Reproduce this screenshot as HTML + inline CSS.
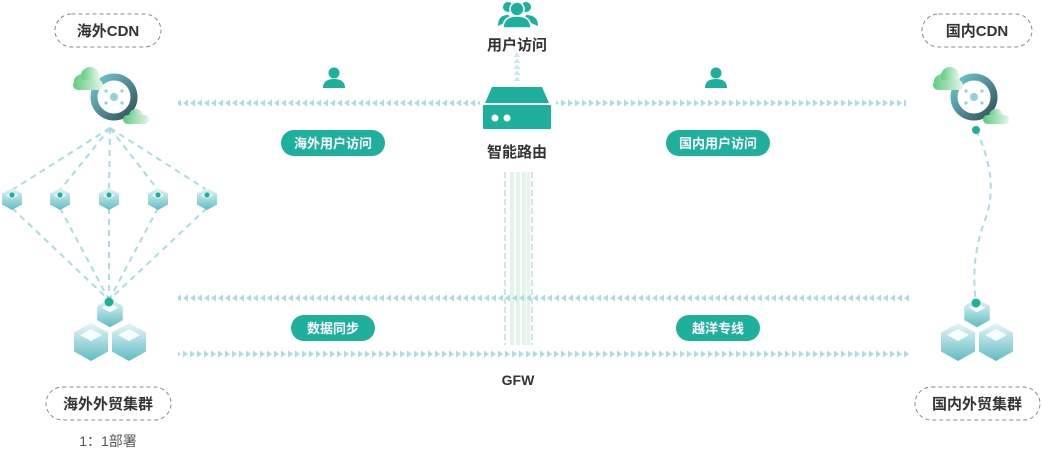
<!DOCTYPE html>
<html><head><meta charset="utf-8"><style>
body{margin:0;background:#fff;}
svg text{font-family:"Liberation Sans","Noto Sans CJK SC",sans-serif;}
</style></head><body>
<svg width="1042" height="449" viewBox="0 0 1042 449" xmlns="http://www.w3.org/2000/svg">
<defs>
<pattern id="al1" x="0" y="99" width="7" height="8" patternUnits="userSpaceOnUse"><path d="M1 4 L6 0.5 L6 7.5Z" fill="#a9dde3"/></pattern>
<pattern id="ar1" x="0" y="99" width="7" height="8" patternUnits="userSpaceOnUse"><path d="M6 4 L1 0.5 L1 7.5Z" fill="#a9dde3"/></pattern>
<pattern id="al2" x="0" y="294" width="7" height="8" patternUnits="userSpaceOnUse"><path d="M1 4 L6 0.5 L6 7.5Z" fill="#a9dde3"/></pattern>
<pattern id="ar2" x="0" y="350" width="7" height="8" patternUnits="userSpaceOnUse"><path d="M6 4 L1 0.5 L1 7.5Z" fill="#a9dde3"/></pattern>
<pattern id="au" x="513" y="52" width="8" height="6" patternUnits="userSpaceOnUse"><path d="M4 0.5 L0.5 5 L7.5 5Z" fill="#c5e9ec"/></pattern>
<linearGradient id="cube" x1="0" y1="0" x2="0" y2="1"><stop offset="0" stop-color="#e8f6f7"/><stop offset="1" stop-color="#5fbcc4"/></linearGradient>
<linearGradient id="cloud" x1="0" y1="0" x2="1" y2="0"><stop offset="0" stop-color="#5fcb7e"/><stop offset="1" stop-color="#e4f5e8"/></linearGradient>
<linearGradient id="ring" x1="0" y1="0" x2="1" y2="1"><stop offset="0" stop-color="#6fc9d3"/><stop offset="1" stop-color="#34505a"/></linearGradient>
<g id="hex"><path d="M0 -11 L10 -5.5 L10 5.5 L0 11 L-10 5.5 L-10 -5.5Z" fill="url(#cube)"/><path d="M0 -7 L6 -3.5 L0 0 L-6 -3.5Z" fill="#fff" opacity=".8"/><circle cx="0" cy="-4" r="2.6" fill="#1fb09d"/></g>
<g id="big"><path d="M0 -19 L17 -9.5 L17 9.5 L0 19 L-17 9.5 L-17 -9.5Z" fill="url(#cube)"/><path d="M0 -13 L11 -7 L0 -1 L-11 -7Z" fill="#fff" opacity=".9"/></g>
<g id="cdn"><circle r="20" fill="none" stroke="url(#ring)" stroke-width="7"/><circle r="4" fill="#8fd2da"/><circle cx="-8" cy="-6" r="1.6" fill="#8fd2da"/><circle cx="8" cy="-6" r="1.6" fill="#8fd2da"/><circle cx="-8" cy="6" r="1.6" fill="#8fd2da"/><circle cx="8" cy="6" r="1.6" fill="#8fd2da"/>
<g fill="url(#cloud)"><ellipse cx="-27" cy="-16" rx="13" ry="8"/><circle cx="-24" cy="-21" r="9"/><rect x="-41" y="-17" width="30" height="10" rx="5"/></g>
<g fill="url(#cloud)"><circle cx="22" cy="19" r="7"/><rect x="9" y="18" width="26" height="9" rx="4.5"/></g></g>
<g id="person"><circle cx="0" cy="-6" r="5.5" fill="#1fb09d"/><path d="M-11 9 Q-11 0 0 0 Q11 0 11 9Z" fill="#1fb09d"/></g>
</defs>

<rect x="55" y="14" width="106" height="33" rx="16.5" fill="#fff" stroke="#888" stroke-dasharray="4 3"/>
<text x="108" y="36" font-size="15" font-weight="bold" fill="#333" text-anchor="middle">海外CDN</text>
<rect x="922" y="14" width="110" height="33" rx="16.5" fill="#fff" stroke="#888" stroke-dasharray="4 3"/>
<text x="977" y="36" font-size="15" font-weight="bold" fill="#333" text-anchor="middle">国内CDN</text>

<g stroke="#a9dde3" stroke-width="2" stroke-dasharray="6 5" fill="none">
<line x1="110" y1="128" x2="12" y2="190"/><line x1="110" y1="128" x2="60" y2="190"/><line x1="110" y1="128" x2="109" y2="190"/><line x1="110" y1="128" x2="158" y2="190"/><line x1="110" y1="128" x2="207" y2="190"/>
<line x1="12" y1="208" x2="109" y2="300"/><line x1="60" y1="208" x2="109" y2="300"/><line x1="109" y1="208" x2="109" y2="300"/><line x1="158" y1="208" x2="109" y2="300"/><line x1="207" y1="208" x2="109" y2="300"/>
<path d="M976 130 Q1000 180 985 220 Q970 260 976 302"/>
</g>

<use href="#cdn" x="114" y="97"/>
<use href="#cdn" x="974" y="97"/>
<circle cx="976" cy="130" r="4" fill="#1fb09d"/>

<use href="#hex" x="12" y="199"/><use href="#hex" x="60" y="199"/><use href="#hex" x="109" y="199"/><use href="#hex" x="158" y="199"/><use href="#hex" x="207" y="199"/>

<use href="#big" x="110" y="313" transform="translate(110 313) scale(.75) translate(-110 -313)"/>
<use href="#big" x="91" y="342"/><use href="#big" x="129" y="342"/>
<circle cx="109" cy="302" r="4.5" fill="#1fb09d"/>
<use href="#big" x="977" y="313" transform="translate(977 313) scale(.75) translate(-977 -313)"/>
<use href="#big" x="958" y="342"/><use href="#big" x="996" y="342"/>
<circle cx="976" cy="303" r="4.5" fill="#1fb09d"/>

<g stroke="#cdeadb" stroke-width="2" stroke-dasharray="6 3"><line x1="505" y1="172" x2="505" y2="345"/><line x1="532" y1="172" x2="532" y2="345"/></g>
<g fill="#e3f4e8"><rect x="510" y="172" width="4" height="173"/><rect x="516" y="172" width="4" height="173"/><rect x="522" y="172" width="4" height="173"/><rect x="527" y="172" width="3" height="173"/></g>

<rect x="178" y="99" width="302" height="8" fill="url(#al1)"/>
<rect x="556" y="99" width="350" height="8" fill="url(#ar1)"/>
<rect x="178" y="294" width="733" height="8" fill="url(#al2)"/>
<rect x="178" y="350" width="733" height="8" fill="url(#ar2)"/>
<rect x="513" y="52" width="8" height="30" fill="url(#au)"/>

<g fill="#1fb09d"><circle cx="508" cy="7" r="5"/><circle cx="526" cy="7" r="5"/><path d="M498 26 Q498 15 508 15 Q510 15 510 20Z"/><path d="M538 26 Q538 15 526 15 L524 20Z"/></g>
<circle cx="517" cy="9" r="7" fill="#1fb09d" stroke="#fff" stroke-width="1.5"/>
<path d="M503 28 Q503 16 517 16 Q531 16 531 28Z" fill="#1fb09d" stroke="#fff" stroke-width="1.5"/>
<text x="517" y="50" font-size="15" font-weight="bold" fill="#333" text-anchor="middle">用户访问</text>
<path d="M492 87 L542 87 L549 103 L485 103Z" fill="#1fb09d"/>
<rect x="483" y="105" width="68" height="24" rx="1" fill="#1fb09d"/>
<circle cx="495" cy="118" r="3.5" fill="#fff"/><circle cx="507" cy="118" r="3.5" fill="#fff"/>
<text x="517" y="157" font-size="15" font-weight="bold" fill="#333" text-anchor="middle">智能路由</text>
<text x="518" y="385" font-size="14" font-weight="bold" fill="#333" text-anchor="middle">GFW</text>

<use href="#person" x="334" y="79"/>
<use href="#person" x="716" y="79"/>

<g font-size="13" font-weight="bold" fill="#fff" text-anchor="middle">
<rect x="281" y="130" width="104" height="26" rx="13" fill="#1fb09d"/><text x="333" y="148">海外用户访问</text>
<rect x="666" y="130" width="104" height="26" rx="13" fill="#1fb09d"/><text x="718" y="148">国内用户访问</text>
<rect x="291" y="315" width="84" height="26" rx="13" fill="#1fb09d"/><text x="333" y="333">数据同步</text>
<rect x="676" y="315" width="84" height="26" rx="13" fill="#1fb09d"/><text x="718" y="333">越洋专线</text>
</g>

<rect x="46" y="387" width="125" height="33" rx="16.5" fill="#fff" stroke="#888" stroke-dasharray="4 3"/>
<text x="108" y="409" font-size="15" font-weight="bold" fill="#333" text-anchor="middle">海外外贸集群</text>
<rect x="915" y="387" width="125" height="33" rx="16.5" fill="#fff" stroke="#888" stroke-dasharray="4 3"/>
<text x="977" y="409" font-size="15" font-weight="bold" fill="#333" text-anchor="middle">国内外贸集群</text>
<text x="108" y="446" font-size="14" fill="#555" text-anchor="middle">1：1部署</text>
</svg>
</body></html>
